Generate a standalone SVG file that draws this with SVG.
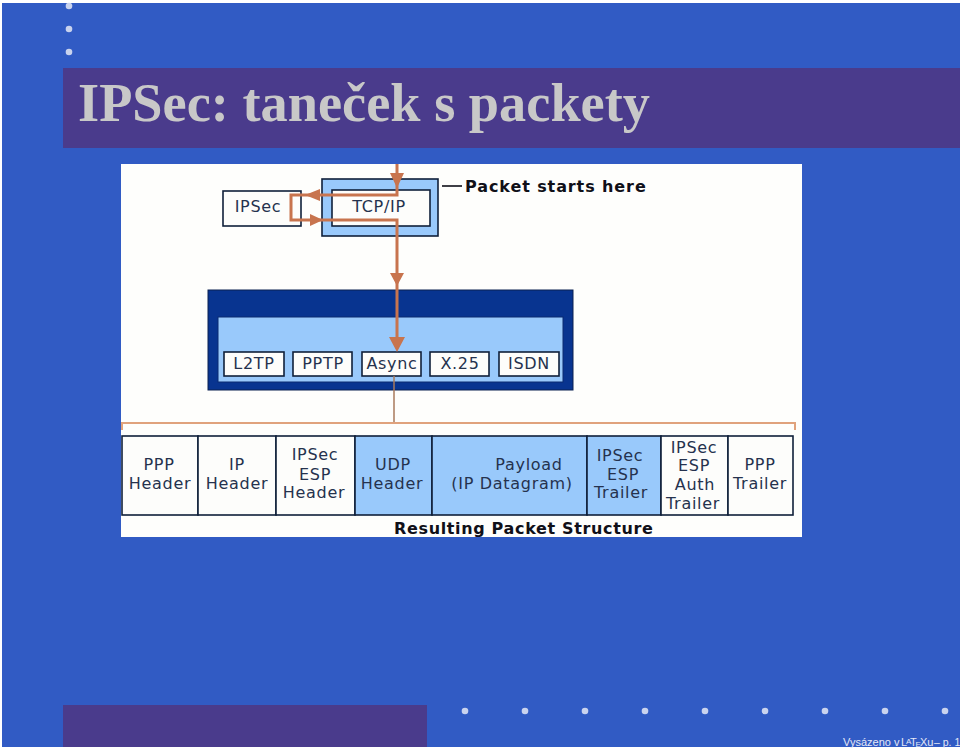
<svg xmlns="http://www.w3.org/2000/svg" width="960" height="749" viewBox="0 0 960 749">
<style>
.dot{fill:#c9d3ee}
.band{fill:#4a3b8c}
.box{stroke:#10203a;stroke-width:1.6}
.w{fill:#fdfdfb}
.b{fill:#99c9fb}
.t{font-family:"DejaVu Sans",sans-serif;font-size:16px;fill:#25324e;text-anchor:middle;letter-spacing:.7px}
.tb{font-family:"DejaVu Sans",sans-serif;font-size:16px;font-weight:bold;fill:#101018}
.flow{fill:none;stroke:#c8744e;stroke-width:3}
.thin{fill:none;stroke:#e0a27c;stroke-width:2}
.stem{fill:none;stroke:#a87a5c;stroke-width:1.5}
.head{fill:#c8744e}
</style>
<rect width="960" height="749" fill="#fff"/>
<rect x="2" y="3" width="958" height="744" fill="#315bc4"/>
<g id="decor">
<circle class="dot" cx="69" cy="6" r="3.3"/><circle class="dot" cx="69" cy="29" r="3.3"/><circle class="dot" cx="69" cy="52" r="3.3"/>
<rect class="band" x="63" y="68" width="897" height="80"/>
<rect class="band" x="63" y="705" width="364" height="42"/>
<circle class="dot" cx="465" cy="711" r="3.3"/><circle class="dot" cx="525" cy="711" r="3.3"/><circle class="dot" cx="585" cy="711" r="3.3"/><circle class="dot" cx="645" cy="711" r="3.3"/><circle class="dot" cx="705" cy="711" r="3.3"/><circle class="dot" cx="765" cy="711" r="3.3"/><circle class="dot" cx="825" cy="711" r="3.3"/><circle class="dot" cx="885" cy="711" r="3.3"/><circle class="dot" cx="945" cy="711" r="3.3"/>
</g>
<text id="title" x="78" y="121" font-family="'Liberation Serif',serif" font-weight="bold" font-size="54" fill="#c8c8c8" textLength="572" lengthAdjust="spacingAndGlyphs">IPSec: taneček s packety</text>
<text id="footer" x="843" y="746" font-family="'Liberation Sans',sans-serif" font-size="11" fill="#e4e8f6">Vysázeno v <tspan x="901">L</tspan><tspan x="906" y="744" font-size="8">A</tspan><tspan x="910" y="746">T</tspan><tspan x="915.5" y="747" font-size="8">E</tspan><tspan x="920" y="746">Xu</tspan><tspan x="934" font-size="10.5">– p. 1</tspan></text>
<rect id="canvas" x="121" y="164" width="681" height="373" fill="#fefefc"/>
<g id="tcp-ip"><rect x="322" y="179" width="116" height="57" class="box" fill="#99c9fb"/><rect x="332" y="190" width="98" height="36" class="box w"/><text class="t" x="379" y="212">TCP/IP</text></g>
<g id="ipsec"><rect x="223" y="191" width="78" height="35" class="box w"/><text class="t" x="258" y="212">IPSec</text></g>
<g id="start-label"><path d="M442 186H462" stroke="#101018" stroke-width="1.6"/><text class="tb" x="465" y="192" letter-spacing=".9">Packet starts here</text></g>
<g id="stack">
<rect x="208" y="290" width="365" height="100" fill="#083490" stroke="#0a2050"/>
<rect x="218" y="317" width="345" height="65" fill="#99c9fb" stroke="#0a2a70"/>
</g>
<g id="l2tp"><rect x="224" y="352" width="60" height="24" class="box w"/><text class="t" x="254" y="369">L2TP</text></g>
<g id="pptp"><rect x="293" y="352" width="59" height="24" class="box w"/><text class="t" x="323" y="369">PPTP</text></g>
<g id="async"><rect x="362" y="352" width="59" height="24" class="box w"/><text class="t" x="392" y="369">Async</text></g>
<g id="x25"><rect x="430" y="352" width="59" height="24" class="box w"/><text class="t" x="460" y="369">X.25</text></g>
<g id="isdn"><rect x="499" y="352" width="60" height="24" class="box w"/><text class="t" x="529" y="369">ISDN</text></g>
<g id="connectors">
<path class="flow" d="M397 164V195H291V220H397V338"/>
<path class="head" d="M390 173H404L397 188ZM320 189V201L305 195ZM310 214V226L323 220ZM390 273H404L397 286ZM389 337H405L397 352Z"/>
<path class="stem" d="M394 376V423"/>
<path class="thin" d="M122 430V423H795V430"/>
</g>
<g id="ppp-header"><rect x="122" y="436" width="76" height="79" class="box w"/><text class="t" x="159" y="470">PPP</text><text class="t" x="160" y="489">Header</text></g>
<g id="ip-header"><rect x="198" y="436" width="78" height="79" class="box w"/><text class="t" x="237" y="470">IP</text><text class="t" x="237" y="489">Header</text></g>
<g id="esp-header"><rect x="276" y="436" width="79" height="79" class="box w"/><text class="t" x="315" y="460">IPSec</text><text class="t" x="315" y="480">ESP</text><text class="t" x="314" y="498">Header</text></g>
<g id="udp-header"><rect x="355" y="436" width="77" height="79" class="box b"/><text class="t" x="393" y="470">UDP</text><text class="t" x="392" y="489">Header</text></g>
<g id="payload"><rect x="432" y="436" width="155" height="79" class="box b"/><text class="t" x="529" y="470">Payload</text><text class="t" x="512" y="489">(IP Datagram)</text></g>
<g id="esp-trailer"><rect x="587" y="436" width="74" height="79" class="box b"/><text class="t" x="620" y="461">IPSec</text><text class="t" x="623" y="480">ESP</text><text class="t" x="621" y="498">Trailer</text></g>
<g id="esp-auth"><rect x="661" y="436" width="67" height="79" class="box w"/><text class="t" x="694" y="453">IPSec</text><text class="t" x="694" y="471">ESP</text><text class="t" x="695" y="490">Auth</text><text class="t" x="693" y="509">Trailer</text></g>
<g id="ppp-trailer"><rect x="728" y="436" width="65" height="79" class="box w"/><text class="t" x="760" y="470">PPP</text><text class="t" x="760" y="489">Trailer</text></g>
<text class="tb" x="394" y="534" letter-spacing=".65">Resulting Packet Structure</text>
</svg>
